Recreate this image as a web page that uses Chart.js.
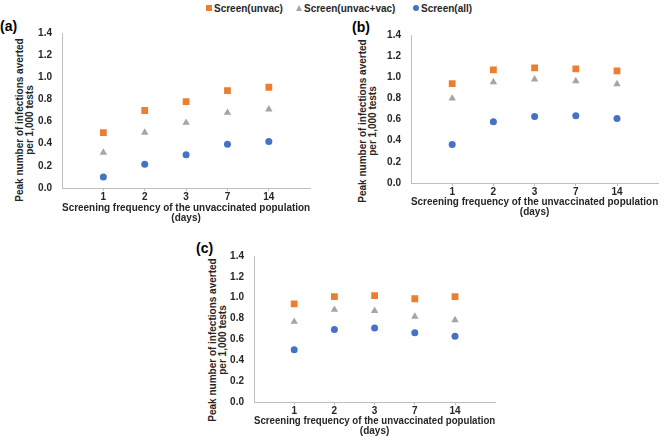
<!DOCTYPE html>
<html>
<head>
<meta charset="utf-8">
<script src="https://cdn.jsdelivr.net/npm/chart.js@4.4.0/dist/chart.umd.min.js"></script>
<style>
  body { margin: 0; background: #fff; font-family: "Liberation Sans", Arial, sans-serif; }
  #wrap { position: relative; width: 668px; height: 437px; overflow: hidden; }
  canvas { position: absolute; }
  .panel { position: absolute; font-weight: bold; font-size: 14px; line-height: 16px; color: #000; }
  .ytitle { position: absolute; width: 220px; height: 20px; font-weight: bold; font-size: 10px;
            line-height: 10px; text-align: center; color: #262626; transform: rotate(-90deg); white-space: nowrap; }
  .leg { position: absolute; top: 3px; font-weight: bold; font-size: 10px; line-height: 12px; color: #262626; white-space: nowrap; }
  .mk { display: inline-block; vertical-align: middle; margin-right: 2px; position: relative; top: -1px; }
</style>
</head>
<body>
<div id="wrap">
  <div class="leg" style="left:206px"><span class="mk" style="width:6px;height:6px;background:#ED7D31"></span>Screen(unvac)</div>
  <div class="leg" style="left:296px"><span class="mk" style="width:0;height:0;border-left:3.5px solid transparent;border-right:3.5px solid transparent;border-bottom:6px solid #A5A5A5"></span>Screen(unvac+vac)</div>
  <div class="leg" style="left:413px"><span class="mk" style="width:6px;height:6px;border-radius:50%;background:#4472C4"></span>Screen(all)</div>

  <div class="panel" style="left:0px;top:18px">(a)</div>
  <div class="panel" style="left:352px;top:19px">(b)</div>
  <div class="panel" style="left:196px;top:240px">(c)</div>

  <div class="ytitle" style="left:-85px;top:110px">Peak number of infections averted<br>per 1,000 tests</div>
  <div class="ytitle" style="left:258px;top:111px">Peak number of infections averted<br>per 1,000 tests</div>
  <div class="ytitle" style="left:108px;top:330px">Peak number of infections averted<br>per 1,000 tests</div>

  <canvas id="chartA" width="303" height="206" style="left:12px;top:17px"></canvas>
  <canvas id="chartB" width="302" height="198" style="left:361px;top:19px"></canvas>
  <canvas id="chartC" width="296" height="196" style="left:204px;top:240px"></canvas>
</div>
<script>
const freqLabels = ['1', '2', '3', '7', '14'];
const seriesNames = ['Screen(unvac)', 'Screen(unvac+vac)', 'Screen(all)'];
const yTicks = [0, 0.2, 0.4, 0.6, 0.8, 1.0, 1.2, 1.4];

// panel (a)
const unvacA = [0.50, 0.70, 0.78, 0.88, 0.91];
const unvacVacA = [0.32, 0.50, 0.59, 0.68, 0.71];
const allA = [0.10, 0.215, 0.30, 0.395, 0.42];
// panel (b)
const unvacB = [0.94, 1.07, 1.09, 1.08, 1.06];
const unvacVacB = [0.80, 0.955, 0.98, 0.965, 0.935];
const allB = [0.365, 0.58, 0.63, 0.635, 0.61];
// panel (c)
const unvacC = [0.94, 1.01, 1.02, 0.99, 1.01];
const unvacVacC = [0.77, 0.885, 0.875, 0.82, 0.785];
const allC = [0.50, 0.695, 0.71, 0.665, 0.63];

const colors = ['#ED7D31', '#A5A5A5', '#4472C4'];
const styles = ['rect', 'triangle', 'circle'];
const radii = [4.8, 4.3, 3.5];
const font = 'Liberation Sans, Arial, sans-serif';

function toPoints(vals) {
    return vals.map((v, i) => ({ x: i + 1, y: v }));
}

function makeChart(id, series, xHeight) {
    const ctx = document.getElementById(id).getContext('2d');
    return new Chart(ctx, {
        type: 'scatter',
        data: {
            datasets: series.map((vals, k) => ({
                label: seriesNames[k],
                data: toPoints(vals),
                pointStyle: styles[k],
                pointRadius: radii[k],
                pointHoverRadius: radii[k],
                backgroundColor: colors[k],
                borderColor: colors[k],
                borderWidth: 0
            }))
        },
        options: {
            responsive: false,
            animation: false,
            layout: { padding: { top: 8, right: 0, bottom: 0, left: 0 } },
            scales: {
                x: {
                    type: 'linear',
                    min: 0,
                    max: freqLabels.length + 1,
                    afterBuildTicks: s => { s.ticks = freqLabels.map((l, i) => ({ value: i + 1 })); },
                    afterFit: s => { s.height = xHeight; },
                    grid: {
                        drawOnChartArea: false,
                        drawTicks: true,
                        tickLength: 3,
                        color: '#bfbfbf'
                    },
                    border: { display: true, color: '#bfbfbf', width: 1 },
                    ticks: {
                        padding: 0,
                        autoSkip: false,
                        maxRotation: 0,
                        color: '#262626',
                        font: { family: font, size: 10, weight: 'bold' },
                        callback: v => freqLabels[v - 1] || ''
                    },
                    title: {
                        display: true,
                        text: ['Screening frequency of the unvaccinated population', '(days)'],
                        color: '#262626',
                        font: { family: font, size: 10, weight: 'bold', lineHeight: '10px' },
                        padding: 0
                    }
                },
                y: {
                    min: 0,
                    max: 1.4,
                    afterBuildTicks: s => { s.ticks = yTicks.map(v => ({ value: v })); },
                    afterFit: s => { s.width = 50; },
                    grid: { display: false, drawTicks: false },
                    border: { display: true, color: '#bfbfbf', width: 1 },
                    ticks: {
                        padding: 10,
                        color: '#262626',
                        font: { family: font, size: 10, weight: 'bold' },
                        callback: v => v.toFixed(1)
                    }
                }
            },
            plugins: {
                legend: { display: false },
                tooltip: { enabled: false }
            }
        }
    });
}

makeChart('chartA', [unvacA, unvacVacA, allA], 35);
makeChart('chartB', [unvacB, unvacVacB, allB], 34);
makeChart('chartC', [unvacC, unvacVacC, allC], 34);
</script>
</body>
</html>
